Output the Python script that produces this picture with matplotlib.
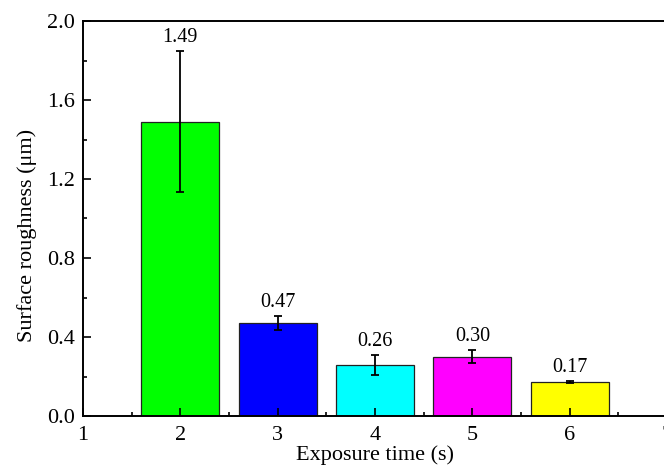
import matplotlib
matplotlib.use("Agg")
import matplotlib.pyplot as plt
from matplotlib.ticker import MultipleLocator

plt.rcParams['font.family'] = ['Liberation Serif', 'DejaVu Serif']

# --- data ---
exposure = [2, 3, 4, 5, 6]
roughness = [1.49, 0.47, 0.26, 0.30, 0.17]
err = [0.356, 0.035, 0.05, 0.034, 0.005]
labels = ["1.49", "0.47", "0.26", "0.30", "0.17"]
colors = ["#00FF00", "#0000FF", "#00FFFF", "#FF00FF", "#FFFF00"]

fig = plt.figure(figsize=(6.64, 4.68), dpi=100)
ax = fig.add_axes([83 / 664, 52 / 468, 584 / 664, 395 / 468])

ax.bar(exposure, roughness, width=0.8, color=colors, edgecolor="#222222", linewidth=0.9)
ax.errorbar(exposure, roughness, yerr=err, fmt="none", ecolor="black",
            elinewidth=1.3, capsize=2.6, capthick=1.3)

for x, y, e, t in zip(exposure, roughness, err, labels):
    ax.text(x, y + e + 0.02, t, ha="center", va="bottom", fontsize=14.5)

ax.set_xlim(1, 7)
ax.set_ylim(0, 2.0)
ax.xaxis.set_major_locator(MultipleLocator(1))
ax.xaxis.set_minor_locator(MultipleLocator(0.5))
ax.yaxis.set_major_locator(MultipleLocator(0.4))
ax.yaxis.set_minor_locator(MultipleLocator(0.2))
ax.yaxis.set_major_formatter(plt.FormatStrFormatter("%.1f"))

ax.tick_params(which="both", direction="in", labelsize=16, width=1.2)
ax.tick_params(which="major", length=6)
ax.tick_params(axis="x", which="major", pad=7.5)
ax.tick_params(axis="y", which="major", pad=6)
ax.tick_params(which="minor", length=3)
for s in ax.spines.values():
    s.set_linewidth(1.4)

ax.set_xlabel("Exposure time (s)", fontsize=16, labelpad=0)
ax.set_ylabel("Surface roughness (μm)", fontsize=16)
ax.yaxis.set_label_coords(-0.079, 0.458)

fig.savefig("out.png", dpi=100)
